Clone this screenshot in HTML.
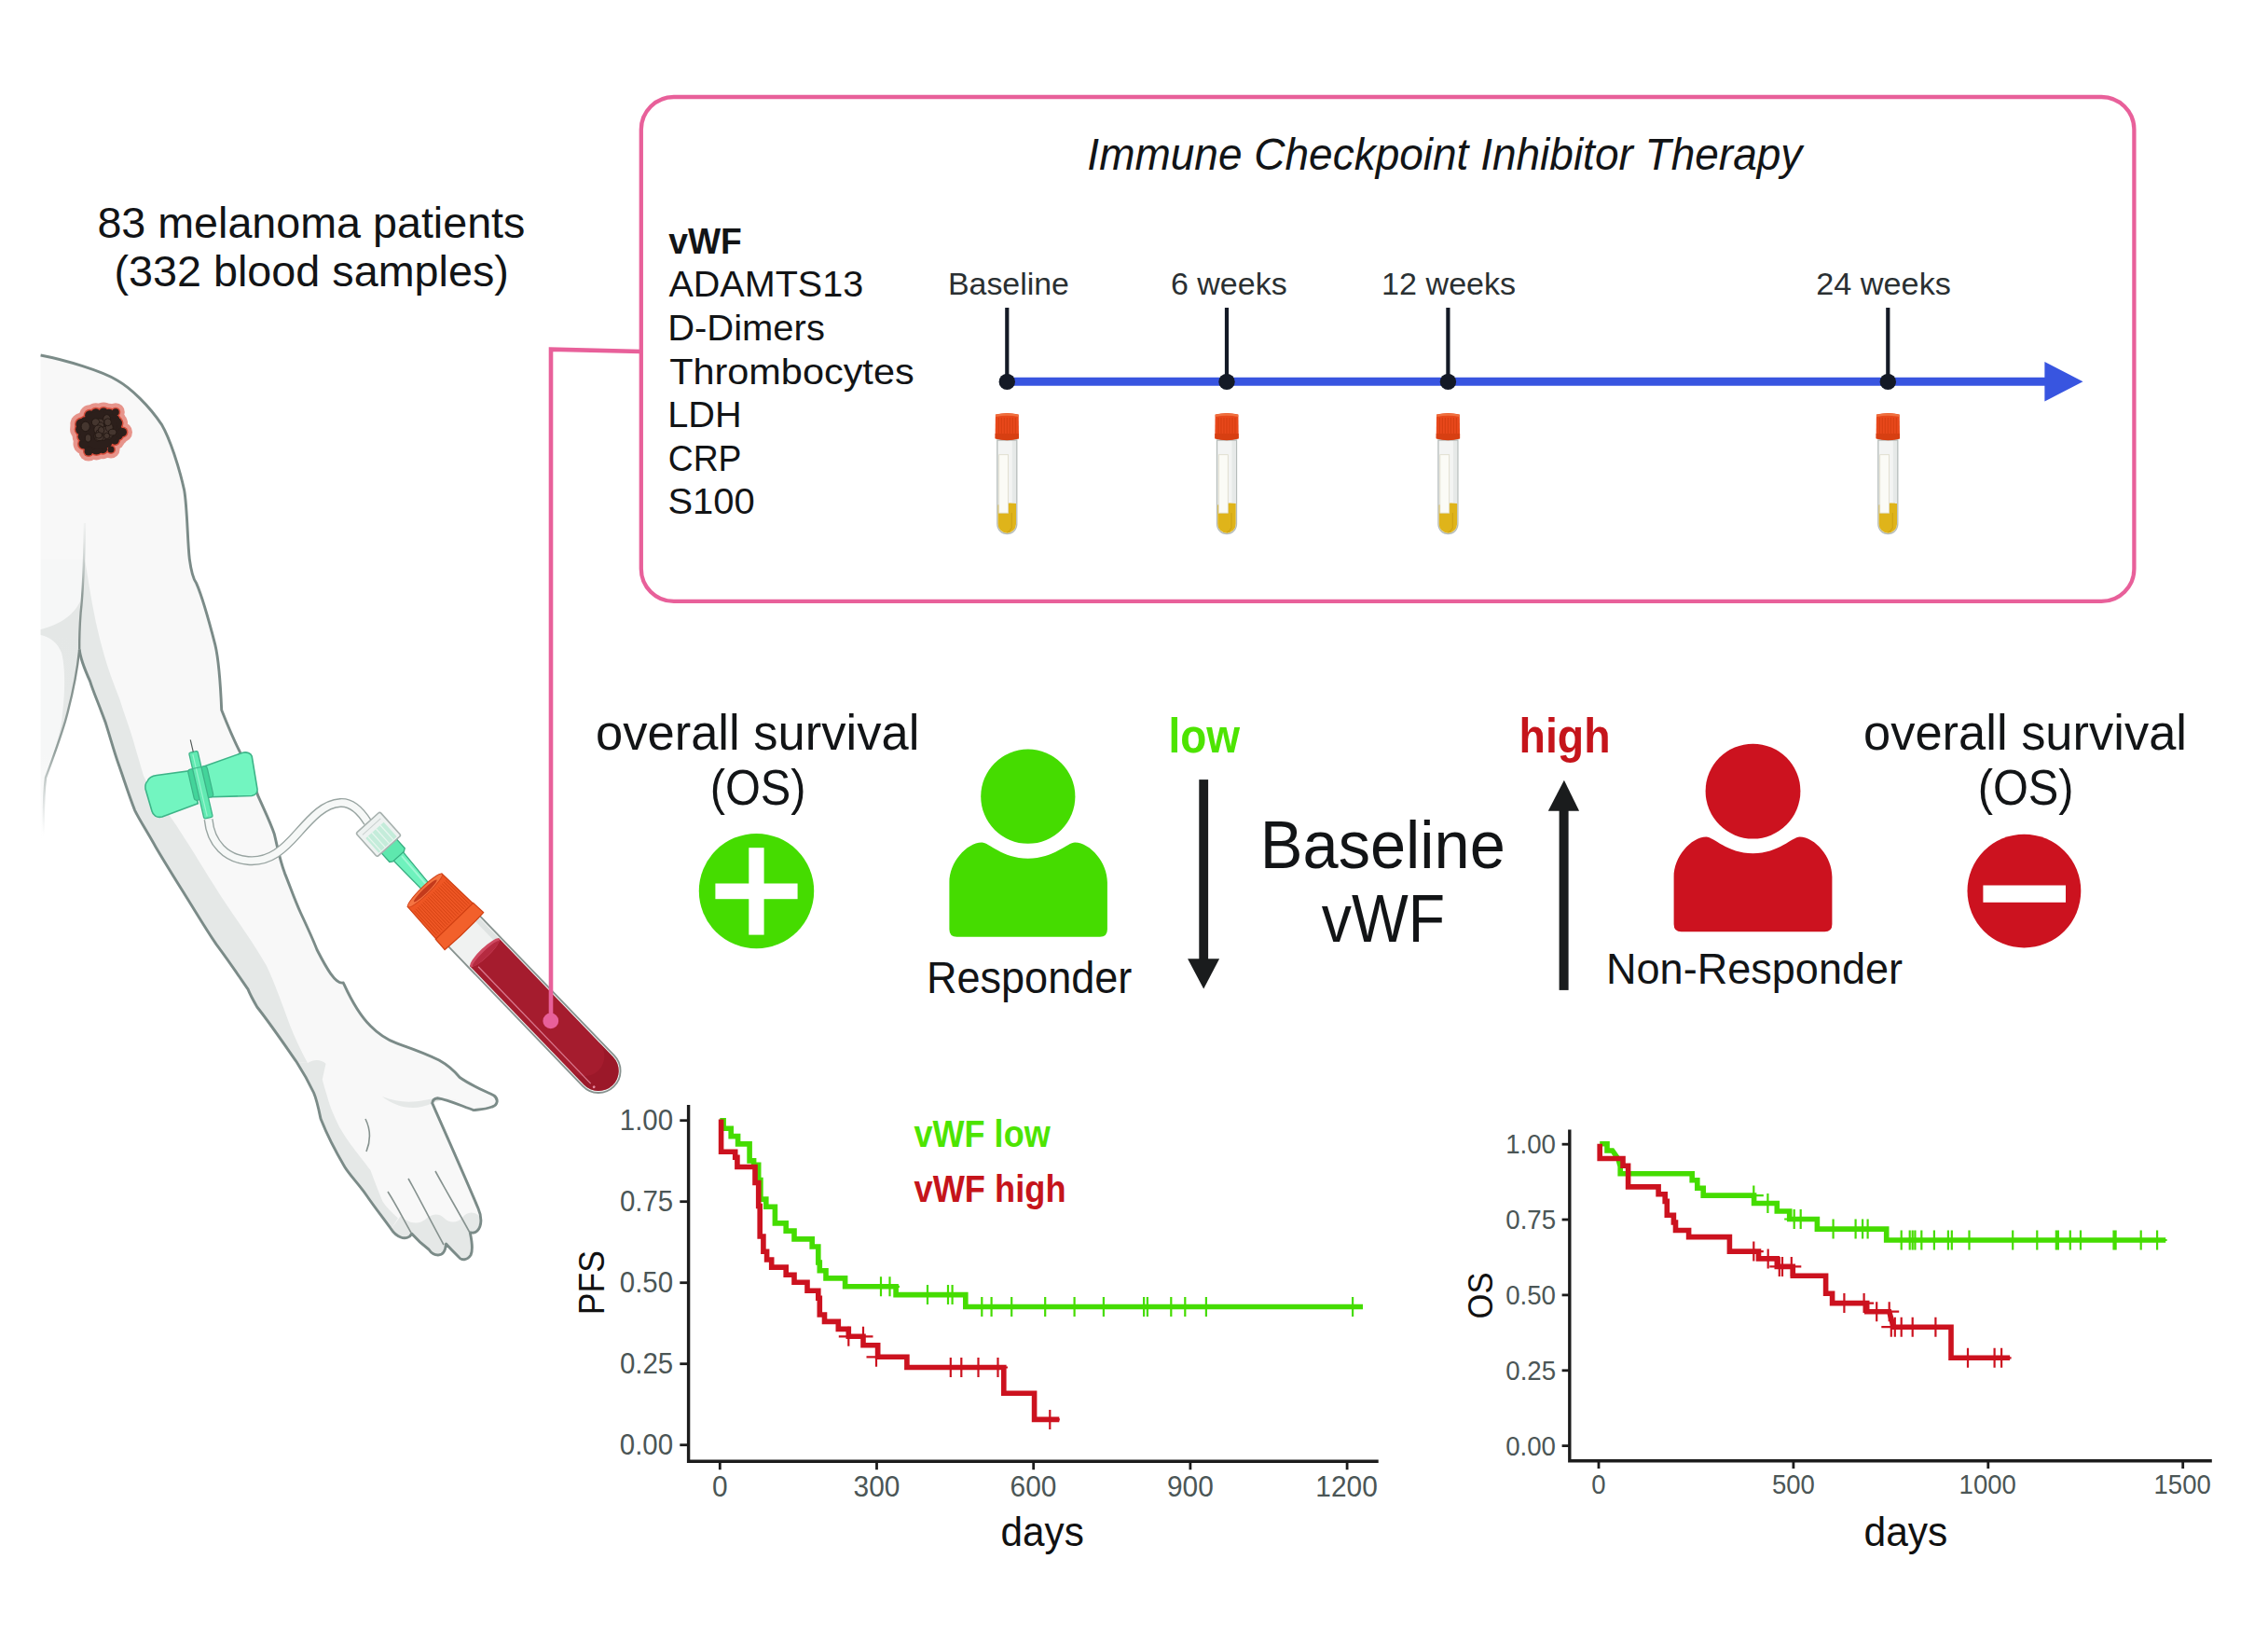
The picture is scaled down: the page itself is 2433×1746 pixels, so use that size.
<!DOCTYPE html>
<html><head><meta charset="utf-8"><style>
html,body{margin:0;padding:0;background:#fff;overflow:hidden;width:2433px;height:1746px;}
svg{display:block;font-family:"Liberation Sans", sans-serif;}
</style></head><body>
<svg width="2433" height="1746" viewBox="0 0 2433 1746">
<defs><symbol id="tube" overflow="visible"><g>
<path d="M-10.5,472 L-10.5,562 A10.5,10.5 0 0 0 10.5,562 L10.5,472 Z" fill="#f3f4f3" stroke="#b5bcba" stroke-width="1.3"/>
<rect x="5.5" y="473" width="4.2" height="68" fill="#e6e9e8"/>
<path d="M-9.7,541.5 Q0,538.5 9.7,540 L9.7,562 A9.7,9.7 0 0 1 -9.7,562 Z" fill="#dfb41a"/>
<path d="M5,550 L5,566 Q3,570 0,571" stroke="#c99c12" stroke-width="1.2" fill="none" opacity="0.7"/>
<rect x="-8.6" y="487.7" width="9.9" height="62.5" fill="#fbfbf6" stroke="#dcd9c8" stroke-width="0.8"/>
<path d="M-12.4,444.5 Q0,441.5 12.4,444.5 L12.7,470 Q0,473.5 -12.7,470 Z" fill="#e8481b"/>
<g stroke="#cc3b0f" stroke-width="0.9" opacity="0.75"><line x1="-9" y1="448" x2="-9" y2="465"/><line x1="-6" y1="448" x2="-6" y2="465"/><line x1="-3" y1="448" x2="-3" y2="465"/><line x1="0" y1="448" x2="0" y2="465"/><line x1="3" y1="448" x2="3" y2="465"/><line x1="6" y1="448" x2="6" y2="465"/><line x1="9" y1="448" x2="9" y2="465"/></g>
<path d="M-12.7,465 L12.7,465 L12.7,470.5 Q0,474 -12.7,470.5 Z" fill="#d73f12"/>
<path d="M-12.2,444.8 Q0,441.8 12.2,444.8 L12.2,447 Q0,444.5 -12.2,447 Z" fill="#f0703f"/>
</g></symbol></defs>
<rect width="2433" height="1746" fill="#fff"/>
<text x="104.40" y="254.5" font-size="46.9" fill="#121416" text-anchor="start" textLength="459.01" lengthAdjust="spacingAndGlyphs">83 melanoma patients</text>
<text x="122.50" y="306.9" font-size="46.9" fill="#121416" text-anchor="start" textLength="423.35" lengthAdjust="spacingAndGlyphs">(332 blood samples)</text>
<defs><linearGradient id="tfade" gradientUnits="userSpaceOnUse" x1="0" y1="600" x2="0" y2="900"><stop offset="0" stop-color="#f6f7f7"/><stop offset="0.7" stop-color="#f6f7f7"/><stop offset="1" stop-color="#f6f7f7" stop-opacity="0"/></linearGradient><linearGradient id="tline" gradientUnits="userSpaceOnUse" x1="0" y1="696" x2="0" y2="895"><stop offset="0" stop-color="#7d8a87"/><stop offset="0.55" stop-color="#93a09d"/><stop offset="1" stop-color="#c5cccb" stop-opacity="0"/></linearGradient><linearGradient id="iline" gradientUnits="userSpaceOnUse" x1="0" y1="700" x2="0" y2="560"><stop offset="0" stop-color="#7d8a87"/><stop offset="0.45" stop-color="#8f9b98"/><stop offset="1" stop-color="#d5dbd9" stop-opacity="0.2"/></linearGradient><linearGradient id="sfade" gradientUnits="userSpaceOnUse" x1="0" y1="680" x2="0" y2="895"><stop offset="0" stop-color="#e4e7e6"/><stop offset="0.6" stop-color="#e6e9e8"/><stop offset="1" stop-color="#eef0f0" stop-opacity="0"/></linearGradient></defs>
<path d="M43.6,600 L90.8,600 L85.2,696.5 C83,718 78,745 70,773.5 C65,790 58,810 49,834 C47,850 46.5,870 47,900 L43.6,900 Z" fill="url(#tfade)"/>
<path d="M43.6,381 C70,386 110,398 125.9,408 C140,416 160,435 173.8,455.9 C182,470 192,500 197.7,525.9 C201,545 201,580 203.3,599.6 C205,612 208,622 210.6,625.4 C217,640 224,665 230.9,691.8 C234,705 236,720 237.7,761.5 C245,780 250,792 257.5,806.7 C265,825 272,840 277.3,854.7 C285,872 290,882 294.2,894.2 C298,910 300,922 305.5,936.6 C311,950 316,965 322.5,979 C330,995 336,1008 340,1018.5 C350,1038 360,1056 368.3,1054 C372,1062 382,1085 397.4,1100.3 C405,1108 415,1115 425,1118.7 C440,1124 455,1129 471,1137 C480,1142 487,1148 493.2,1155.5 C505,1164 520,1170 530,1175 C535,1179 534,1185 528,1187 C520,1190 512,1190 508,1190.6 C495,1186 480,1179 469.3,1177.7 C466,1178 464,1180 463.7,1183.2 C480,1220 500,1265 513,1296 C517,1305 517,1315 512,1320 C509,1323 506,1322 504.3,1322 C506,1330 508,1340 505,1346 C501,1352 495,1352 492,1348 C486,1342 482,1338 478.5,1334 C478,1340 476,1346 470,1346 C465,1346 462,1343 460,1340 C452,1334 446,1328 441.6,1323 C440,1327 435,1329 430,1327 C425,1325 422,1322 419.5,1318 C410,1305 400,1292 393.7,1282.7 C385,1270 375,1260 369.8,1251.4 C360,1235 350,1215 344,1199.8 C342,1190 340,1180 336.6,1172 C330,1158 324,1148 318.2,1139 C305,1120 290,1098 275.8,1080 C270,1070 268,1066 266,1060.9 C255,1045 245,1030 232.1,1012.9 C220,995 210,978 198.2,959.2 C185,938 175,922 167.1,908.4 C158,892 150,880 144.5,868.8 C138,852 133,836 127.6,820.8 C122,805 118,790 113.4,775.6 C106,755 100,742 96.5,730.4 C90,716 86,705 85.2,696.5 C85,680 86,665 86.6,657 C88,645 90,620 90.8,600 L43.6,600 Z" fill="#f8f8f8"/>
<path d="M90.8,600 C90,620 88,645 86.6,657 C86,670 85.5,685 85.2,696.5 C86,705 90,716 96.5,730.4 C100,742 106,755 113.4,775.6 C118,790 122,805 127.6,820.8 C133,836 138,852 144.5,868.8 C150,880 158,892 167.1,908.4 C175,922 185,938 198.2,959.2 C210,978 220,995 232.1,1012.9 C245,1030 255,1045 266,1060.9 C268,1066 270,1070 275.8,1080 C290,1098 305,1120 318.2,1139 L330,1140 C322,1125 316,1112 311.2,1099.9 C302,1075 295,1055 285.8,1035.5 C265,1000 245,975 230,950 C205,910 190,885 175.6,866 C165,850 160,845 154,831.9 C150,818 146,805 142.4,792.2 C138,778 133,765 128.4,750 C122,733 116,718 112,703.4 C105,680 100,655 95.7,628.7 C94,618 92.5,608 90.8,600 Z" fill="#e5e8e7"/>
<path d="M318.2,1139 C324,1148 330,1158 336.6,1172 C340,1180 342,1190 344,1199.8 C350,1215 360,1235 369.8,1251.4 C375,1260 385,1270 393.7,1282.7 C400,1292 410,1305 419.5,1318 L426.9,1306.6 C420,1300 414,1294 410.3,1288.2 C405,1275 401,1265 397.4,1255 C390,1245 384,1238 379,1231 C372,1222 368,1215 364.2,1209 C360,1200 356,1192 353.2,1183.2 C350,1172 347,1163 345.8,1157.4 L349.5,1140.8 C344,1136 337,1136 330,1140 Z" fill="#e5e8e7"/>
<path d="M419.5,1318 C425,1325 432,1328 438,1327 L441.6,1323 C450,1330 458,1340 465,1344 C472,1346 477,1342 478.5,1334 C485,1342 492,1350 500,1349 C506,1346 507,1336 504,1322 C510,1322 515,1318 515,1305 C508,1298 500,1300 496,1306 C490,1312 482,1312 476,1306 C470,1300 462,1302 456,1308 C448,1314 438,1312 430,1304 Z" fill="#e5e8e7"/>
<path d="M410,1176 C425,1188 445,1192 463.7,1183.2 C470,1180 480,1178 490,1180 C470,1176 465,1178 455,1180 C440,1183 425,1182 410,1176 Z" fill="#e5e8e7"/>
<path d="M43.6,675 C60,671 78,662 86,645 L85.2,696.5 C83,718 78,745 70,773.5 C65,790 58,810 49,834 C58,805 66,785 67,765 C70,740 70,715 66,700 C62,690 54,683 43.6,681 Z" fill="url(#sfade)"/>
<path d="M43.6,381 C70,386 110,398 125.9,408 C140,416 160,435 173.8,455.9 C182,470 192,500 197.7,525.9 C201,545 201,580 203.3,599.6 C205,612 208,622 210.6,625.4 C217,640 224,665 230.9,691.8 C234,705 236,720 237.7,761.5 C245,780 250,792 257.5,806.7 C265,825 272,840 277.3,854.7 C285,872 290,882 294.2,894.2 C298,910 300,922 305.5,936.6 C311,950 316,965 322.5,979 C330,995 336,1008 340,1018.5 C350,1038 360,1056 368.3,1054 C372,1062 382,1085 397.4,1100.3 C405,1108 415,1115 425,1118.7 C440,1124 455,1129 471,1137 C480,1142 487,1148 493.2,1155.5 C505,1164 520,1170 530,1175 C535,1179 534,1185 528,1187 C520,1190 512,1190 508,1190.6 C495,1186 480,1179 469.3,1177.7 C466,1178 464,1180 463.7,1183.2 C480,1220 500,1265 513,1296 C517,1305 517,1315 512,1320 C509,1323 506,1322 504.3,1322 C506,1330 508,1340 505,1346 C501,1352 495,1352 492,1348 C486,1342 482,1338 478.5,1334 C478,1340 476,1346 470,1346 C465,1346 462,1343 460,1340 C452,1334 446,1328 441.6,1323 C440,1327 435,1329 430,1327 C425,1325 422,1322 419.5,1318 C410,1305 400,1292 393.7,1282.7 C385,1270 375,1260 369.8,1251.4 C360,1235 350,1215 344,1199.8 C342,1190 340,1180 336.6,1172 C330,1158 324,1148 318.2,1139 C305,1120 290,1098 275.8,1080 C270,1070 268,1066 266,1060.9 C255,1045 245,1030 232.1,1012.9 C220,995 210,978 198.2,959.2 C185,938 175,922 167.1,908.4 C158,892 150,880 144.5,868.8 C138,852 133,836 127.6,820.8 C122,805 118,790 113.4,775.6 C106,755 100,742 96.5,730.4 C90,716 86,705 85.2,696.5" fill="none" stroke="#7b8b88" stroke-width="2.9" stroke-linejoin="round"/>
<path d="M85.2,696.5 C85,680 86,665 86.6,657 C88,645 90,620 91,561" fill="none" stroke="url(#iline)" stroke-width="2.4"/>
<path d="M85.2,696.5 C83,718 78,745 70,773.5 C65,790 58,810 49,834 C47,850 46.5,870 47,895" fill="none" stroke="url(#tline)" stroke-width="2.4"/>
<path d="M416,1278 C425,1292 433,1308 441,1322 M438,1264 C450,1285 462,1310 476,1335 M467,1256 C479,1278 492,1300 504,1322 M392,1200 C398,1212 397,1225 393,1235" fill="none" stroke="#86928f" stroke-width="1.6"/>
<g fill="#e68a80" opacity="0.9"><circle cx="124.8" cy="460.9" r="12.1"/><circle cx="126.4" cy="466.4" r="11.4"/><circle cx="123.2" cy="472.1" r="10.6"/><circle cx="115.3" cy="475.4" r="10.7"/><circle cx="110.3" cy="481.4" r="10.8"/><circle cx="103.4" cy="480.5" r="12.9"/><circle cx="95.6" cy="476.9" r="12.9"/><circle cx="89.7" cy="476.0" r="11.2"/><circle cx="89.0" cy="468.2" r="11.3"/><circle cx="87.1" cy="460.4" r="12.0"/><circle cx="87.3" cy="455.0" r="11.9"/><circle cx="91.1" cy="452.3" r="11.0"/><circle cx="96.4" cy="445.5" r="11.3"/><circle cx="102.8" cy="443.5" r="11.2"/><circle cx="111.1" cy="442.5" r="11.1"/><circle cx="116.8" cy="445.5" r="12.7"/><circle cx="121.6" cy="451.0" r="13.0"/><circle cx="124.6" cy="454.1" r="12.4"/><circle cx="131.5" cy="463.5" r="10.5"/><circle cx="124.0" cy="442.0" r="9.8"/><circle cx="95.0" cy="484.0" r="10.5"/><circle cx="119.0" cy="482.0" r="9.5"/><circle cx="106" cy="461.5" r="26"/></g>
<g fill="#cf3420" opacity="0.75"><circle cx="124.8" cy="460.9" r="7.6"/><circle cx="126.4" cy="466.4" r="6.9"/><circle cx="123.2" cy="472.1" r="6.1"/><circle cx="115.3" cy="475.4" r="6.2"/><circle cx="110.3" cy="481.4" r="6.3"/><circle cx="103.4" cy="480.5" r="8.4"/><circle cx="95.6" cy="476.9" r="8.4"/><circle cx="89.7" cy="476.0" r="6.7"/><circle cx="89.0" cy="468.2" r="6.8"/><circle cx="87.1" cy="460.4" r="7.5"/><circle cx="87.3" cy="455.0" r="7.4"/><circle cx="91.1" cy="452.3" r="6.5"/><circle cx="96.4" cy="445.5" r="6.8"/><circle cx="102.8" cy="443.5" r="6.7"/><circle cx="111.1" cy="442.5" r="6.6"/><circle cx="116.8" cy="445.5" r="8.2"/><circle cx="121.6" cy="451.0" r="8.5"/><circle cx="124.6" cy="454.1" r="7.9"/><circle cx="131.5" cy="463.5" r="6.0"/><circle cx="124.0" cy="442.0" r="5.3"/><circle cx="95.0" cy="484.0" r="6.0"/><circle cx="119.0" cy="482.0" r="5.0"/><circle cx="106" cy="461.5" r="21.5"/></g>
<g fill="#2c1f1b"><circle cx="124.8" cy="460.9" r="6.1"/><circle cx="126.4" cy="466.4" r="5.4"/><circle cx="123.2" cy="472.1" r="4.6"/><circle cx="115.3" cy="475.4" r="4.7"/><circle cx="110.3" cy="481.4" r="4.8"/><circle cx="103.4" cy="480.5" r="6.9"/><circle cx="95.6" cy="476.9" r="6.9"/><circle cx="89.7" cy="476.0" r="5.2"/><circle cx="89.0" cy="468.2" r="5.3"/><circle cx="87.1" cy="460.4" r="6.0"/><circle cx="87.3" cy="455.0" r="5.9"/><circle cx="91.1" cy="452.3" r="5.0"/><circle cx="96.4" cy="445.5" r="5.3"/><circle cx="102.8" cy="443.5" r="5.2"/><circle cx="111.1" cy="442.5" r="5.1"/><circle cx="116.8" cy="445.5" r="6.7"/><circle cx="121.6" cy="451.0" r="7.0"/><circle cx="124.6" cy="454.1" r="6.4"/><circle cx="131.5" cy="463.5" r="4.5"/><circle cx="124.0" cy="442.0" r="3.8"/><circle cx="95.0" cy="484.0" r="4.5"/><circle cx="119.0" cy="482.0" r="3.5"/><circle cx="106" cy="461.5" r="20"/></g>
<g fill="#45362f" stroke="#221713" stroke-width="0.9"><ellipse cx="110.8" cy="467.6" rx="3.1" ry="4.7"/><ellipse cx="106.9" cy="452.8" rx="4.8" ry="3.8"/><ellipse cx="102.6" cy="452.9" rx="4.2" ry="4.1"/><ellipse cx="114.6" cy="449.3" rx="3.9" ry="4.7"/><ellipse cx="117.1" cy="465.5" rx="4.3" ry="5.5"/><ellipse cx="108.1" cy="457.6" rx="3.8" ry="4.7"/><ellipse cx="113.8" cy="462.5" rx="3.3" ry="3.3"/><ellipse cx="118.2" cy="465.8" rx="3.3" ry="3.6"/><ellipse cx="94.5" cy="469.9" rx="3.2" ry="4.1"/><ellipse cx="91.7" cy="457.4" rx="4.6" ry="5.2"/><ellipse cx="104.7" cy="467.8" rx="3.7" ry="5.2"/><ellipse cx="108.5" cy="460.9" rx="3.4" ry="3.6"/><ellipse cx="106.9" cy="468.9" rx="4.2" ry="3.7"/><ellipse cx="113.1" cy="461.7" rx="3.7" ry="4.4"/><ellipse cx="117.2" cy="458.4" rx="4.0" ry="4.5"/><ellipse cx="105.6" cy="460.8" rx="4.8" ry="4.9"/><ellipse cx="115.6" cy="452.8" rx="3.8" ry="4.0"/><ellipse cx="114.6" cy="467.4" rx="3.1" ry="3.2"/><ellipse cx="106.7" cy="463.9" rx="3.7" ry="3.1"/><ellipse cx="108.6" cy="461.5" rx="3.2" ry="3.9"/><ellipse cx="120.7" cy="463.6" rx="4.2" ry="3.4"/><ellipse cx="105.9" cy="466.8" rx="3.7" ry="3.3"/></g>
<path d="M158,838 C160,833 164,832 168,831.5 L205.3,826.4 L212.3,861.8 L174,876 C168,877.5 164,874 163,870 L156,846 C155.5,842 156,840 158,838 Z" fill="#72f5c0" stroke="#3db488" stroke-width="1.6"/>
<path d="M218,822.2 L260.3,807.2 C265,806 269,808 270.2,811 L276,846 C276.5,850 274,853 270,853.5 L226.4,854.7 Z" fill="#72f5c0" stroke="#3db488" stroke-width="1.6"/>
<g transform="rotate(-13 215.5 842)"><rect x="205.2" y="823" width="21" height="34" rx="3" fill="#43d49a" stroke="#3db488" stroke-width="1.2"/><rect x="210.7" y="805.5" width="9.6" height="72.5" rx="1.5" fill="#62eab2" stroke="#3db488" stroke-width="1.3"/><line x1="214.5" y1="808" x2="214.5" y2="876" stroke="#9af5d0" stroke-width="1.2"/><line x1="210.7" y1="823" x2="220.3" y2="823" stroke="#3db488" stroke-width="1"/><line x1="215.5" y1="805.5" x2="215.5" y2="792" stroke="#4a5250" stroke-width="1.1"/></g>
<path d="M223.6,878.7 C226,905 243,921 266,923 C290,925 305,910 320,893 C335,876 348,862 365,861 C378,860 387,870 394.6,882.2" fill="none" stroke="#98a4a1" stroke-width="10"/>
<path d="M223.6,878.7 C226,905 243,921 266,923 C290,925 305,910 320,893 C335,876 348,862 365,861 C378,860 387,870 394.6,882.2" fill="none" stroke="#f6f8f7" stroke-width="7.2"/>
<g transform="translate(406,894.8) rotate(48)"><path d="M30,-7 L75,-5 L75,5 L30,7 Z" fill="#6ff2bd" stroke="#36ad80" stroke-width="1.3"/><path d="M34,-3 L74,-2" stroke="#9ff7d4" stroke-width="2"/><path d="M14,-11 L30,-11 L32,-8 L32,8 L30,11 L14,11 Z" fill="#5ee8ae" stroke="#36ad80" stroke-width="1.3"/><rect x="-17" y="-17.2" width="34" height="34.4" rx="2" fill="#eef2f1" stroke="#a7b1ae" stroke-width="1.6"/><rect x="-6" y="-13" width="21" height="26" fill="#c4ecda"/><g stroke="#e8f6ef" stroke-width="1.2"><line x1="-6" y1="-8" x2="15" y2="-8"/><line x1="-6" y1="-2" x2="15" y2="-2"/><line x1="-6" y1="4" x2="15" y2="4"/><line x1="-6" y1="10" x2="15" y2="10"/></g><line x1="-11" y1="-13" x2="-11" y2="13" stroke="#c9d0ce" stroke-width="1"/></g>
<g transform="translate(453.5,952.5) rotate(46.1)"><path d="M62,-23.5 L272,-23.5 A23.5,23.5 0 0 1 272,23.5 L62,23.5 Z" fill="#f0f2f1" stroke="#87928f" stroke-width="1.8"/><path d="M64,-21.5 L100,-21.5 L100,-16 L64,-16 Z" fill="#dfe3e2"/><path d="M95,-21.6 L272,-21.6 A21.6,21.6 0 0 1 272,21.6 L95,21.6 Z" fill="#a51c2e"/><path d="M250,-21.6 L272,-21.6 A21.6,21.6 0 0 1 272,21.6 L250,21.6 A21.6,21.6 0 0 0 250,-21.6 Z" fill="#951627" opacity="0.6"/><ellipse cx="96" cy="0" rx="5" ry="21.4" fill="#cf4a62"/><ellipse cx="97.5" cy="0" rx="3.2" ry="19.5" fill="#b52a40"/><path d="M102,15.5 L276,15.5" stroke="#e38aa0" stroke-width="1.3" opacity="0.85"/><circle cx="281" cy="15.5" r="1.4" fill="#e38aa0"/><path d="M3,-25.5 L50,-27.5 L50,27.5 L3,25.5 Z" fill="#ee5624" stroke="#cf3f12" stroke-width="1.2"/><g stroke="#cf3f10" stroke-width="0.9" opacity="0.85"><line x1="11" y1="-23.4" x2="47" y2="-24.3"/><line x1="11" y1="-20.8" x2="47" y2="-21.6"/><line x1="11" y1="-18.2" x2="47" y2="-18.9"/><line x1="11" y1="-15.6" x2="47" y2="-16.2"/><line x1="11" y1="-13.0" x2="47" y2="-13.5"/><line x1="11" y1="-10.4" x2="47" y2="-10.8"/><line x1="11" y1="-7.8" x2="47" y2="-8.1"/><line x1="11" y1="-5.2" x2="47" y2="-5.4"/><line x1="11" y1="-2.6" x2="47" y2="-2.7"/><line x1="11" y1="0.0" x2="47" y2="0.0"/><line x1="11" y1="2.6" x2="47" y2="2.7"/><line x1="11" y1="5.2" x2="47" y2="5.4"/><line x1="11" y1="7.8" x2="47" y2="8.1"/><line x1="11" y1="10.4" x2="47" y2="10.8"/><line x1="11" y1="13.0" x2="47" y2="13.5"/><line x1="11" y1="15.6" x2="47" y2="16.2"/><line x1="11" y1="18.2" x2="47" y2="18.9"/><line x1="11" y1="20.8" x2="47" y2="21.6"/><line x1="11" y1="23.4" x2="47" y2="24.3"/></g><path d="M49,-28 L64,-28.8 Q66,0 64,28.8 L49,28 Z" fill="#f2602b" stroke="#cf3f12" stroke-width="1.2"/><ellipse cx="3.5" cy="0" rx="4.5" ry="25.5" fill="#f47442" stroke="#d4441a" stroke-width="1"/><ellipse cx="4" cy="0" rx="2.6" ry="17" fill="#c33a1c"/></g>
<rect x="687.8" y="104" width="1601.6" height="540.9" rx="35" ry="35" fill="none" stroke="#e8609a" stroke-width="4.3"/>
<polyline points="687.7,377 591,374.6 591,1095" fill="none" stroke="#e8609a" stroke-width="4.6" stroke-linejoin="miter"/>
<circle cx="590.8" cy="1094.9" r="8.4" fill="#e8609a"/>
<text x="1166.36" y="181.9" font-size="48.3" font-style="italic" fill="#121416" text-anchor="start" textLength="766.95" lengthAdjust="spacingAndGlyphs">Immune Checkpoint Inhibitor Therapy</text>
<text x="717.21" y="271.9" font-size="39.2" font-weight="bold" fill="#121416" text-anchor="start" textLength="78.52" lengthAdjust="spacingAndGlyphs">vWF</text>
<text x="717.40" y="317.8" font-size="39.2" fill="#121416" text-anchor="start" textLength="208.86" lengthAdjust="spacingAndGlyphs">ADAMTS13</text>
<text x="716.20" y="364.7" font-size="39.2" fill="#121416" text-anchor="start" textLength="168.67" lengthAdjust="spacingAndGlyphs">D-Dimers</text>
<text x="718.17" y="411.6" font-size="39.2" fill="#121416" text-anchor="start" textLength="262.50" lengthAdjust="spacingAndGlyphs">Thrombocytes</text>
<text x="716.23" y="457.6" font-size="39.2" fill="#121416" text-anchor="start" textLength="79.37" lengthAdjust="spacingAndGlyphs">LDH</text>
<text x="716.73" y="504.5" font-size="39.2" fill="#121416" text-anchor="start" textLength="78.78" lengthAdjust="spacingAndGlyphs">CRP</text>
<text x="716.40" y="551.4" font-size="39.2" fill="#121416" text-anchor="start" textLength="93.32" lengthAdjust="spacingAndGlyphs">S100</text>
<line x1="1080" y1="409.3" x2="2200" y2="409.3" stroke="#3855e0" stroke-width="9"/>
<polygon points="2193.4,388 2234.5,409.3 2193.4,430.6" fill="#3855e0"/>
<line x1="1080.3" y1="330" x2="1080.3" y2="409" stroke="#141a26" stroke-width="4.2"/>
<circle cx="1080.3" cy="409.4" r="8.7" fill="#141a26"/>
<text x="1016.99" y="316.0" font-size="33.9" fill="#2a3032" text-anchor="start" textLength="129.97" lengthAdjust="spacingAndGlyphs">Baseline</text>
<use href="#tube" x="1080.3" y="0"/>
<line x1="1316" y1="330" x2="1316" y2="409" stroke="#141a26" stroke-width="4.2"/>
<circle cx="1316" cy="409.4" r="8.7" fill="#141a26"/>
<text x="1256.00" y="316.0" font-size="33.9" fill="#2a3032" text-anchor="start" textLength="124.64" lengthAdjust="spacingAndGlyphs">6 weeks</text>
<use href="#tube" x="1316" y="0"/>
<line x1="1553.4" y1="330" x2="1553.4" y2="409" stroke="#141a26" stroke-width="4.2"/>
<circle cx="1553.4" cy="409.4" r="8.7" fill="#141a26"/>
<text x="1482.14" y="316.0" font-size="33.9" fill="#2a3032" text-anchor="start" textLength="144.04" lengthAdjust="spacingAndGlyphs">12 weeks</text>
<use href="#tube" x="1553.4" y="0"/>
<line x1="2025.3" y1="330" x2="2025.3" y2="409" stroke="#141a26" stroke-width="4.2"/>
<circle cx="2025.3" cy="409.4" r="8.7" fill="#141a26"/>
<text x="1948.29" y="316.0" font-size="33.9" fill="#2a3032" text-anchor="start" textLength="144.60" lengthAdjust="spacingAndGlyphs">24 weeks</text>
<use href="#tube" x="2025.3" y="0"/>
<text x="639.00" y="803.6" font-size="53.5" fill="#121416" text-anchor="start" textLength="347.30" lengthAdjust="spacingAndGlyphs">overall survival</text>
<text x="761.68" y="862.7" font-size="54.1" fill="#121416" text-anchor="start" textLength="102.89" lengthAdjust="spacingAndGlyphs">(OS)</text>
<text x="1999.00" y="803.6" font-size="53.5" fill="#121416" text-anchor="start" textLength="346.99" lengthAdjust="spacingAndGlyphs">overall survival</text>
<text x="2121.68" y="862.7" font-size="54.1" fill="#121416" text-anchor="start" textLength="102.89" lengthAdjust="spacingAndGlyphs">(OS)</text>
<circle cx="811.5" cy="955.6" r="61.7" fill="#45dc00"/>
<rect x="803.3" y="909.2" width="16.3" height="93.4" fill="#fff"/>
<rect x="767.4" y="947.5" width="88.2" height="16.7" fill="#fff"/>
<circle cx="2171.4" cy="955.6" r="60.9" fill="#cc121f"/>
<rect x="2127.4" y="949.5" width="88.6" height="18.3" fill="#fff"/>
<circle cx="1102.8" cy="854.2" r="50.6" fill="#45dc00"/>
<path d="M1018.4,996.8 L1018.4,946.5 C1018.4,925.0 1036.4,904.0 1053.2,903.5 C1061.2,903.5 1074.8,920.7 1102.8,920.7 C1130.8,920.7 1145.1000000000001,903.5 1153.1000000000001,903.5 C1169.9,904.0 1187.9,925.0 1187.9,946.5 L1187.9,996.8 Q1187.9,1004.8 1179.9,1004.8 L1026.4,1004.8 Q1018.4,1004.8 1018.4,996.8 Z" fill="#45dc00"/>
<circle cx="1880.5" cy="848.6" r="50.9" fill="#cc121f"/>
<path d="M1795.6,991.3 L1795.6,940.6 C1795.6,919.1 1813.6,898.1 1830.3999999999999,897.6 C1838.3999999999999,897.6 1852.5,915.3 1880.5,915.3 C1908.5,915.3 1922.6000000000001,897.6 1930.6000000000001,897.6 C1947.4,898.1 1965.4,919.1 1965.4,940.6 L1965.4,991.3 Q1965.4,999.3 1957.4,999.3 L1803.6,999.3 Q1795.6,999.3 1795.6,991.3 Z" fill="#cc121f"/>
<text x="993.89" y="1065.0" font-size="47.7" fill="#121416" text-anchor="start" textLength="220.48" lengthAdjust="spacingAndGlyphs">Responder</text>
<text x="1723.00" y="1054.8" font-size="46.5" fill="#121416" text-anchor="start" textLength="318.10" lengthAdjust="spacingAndGlyphs">Non-Responder</text>
<text x="1253.48" y="807.0" font-size="51.7" font-weight="bold" fill="#4de400" text-anchor="start" textLength="76.66" lengthAdjust="spacingAndGlyphs">low</text>
<text x="1629.55" y="806.8" font-size="51.4" font-weight="bold" fill="#c5141b" text-anchor="start" textLength="97.95" lengthAdjust="spacingAndGlyphs">high</text>
<text x="1351.81" y="931.1" font-size="71.8" fill="#121416" text-anchor="start" textLength="263.05" lengthAdjust="spacingAndGlyphs">Baseline</text>
<text x="1417.78" y="1009.5" font-size="71.8" fill="#121416" text-anchor="start" textLength="132.28" lengthAdjust="spacingAndGlyphs">vWF</text>
<rect x="1286.3" y="836.1" width="9.8" height="193" fill="#1a1c1d"/>
<polygon points="1274.1,1028.2 1308.1,1028.2 1291.2,1060.6" fill="#1a1c1d"/>
<rect x="1672.6" y="868" width="10" height="193.9" fill="#1a1c1d"/>
<polygon points="1660.8,869.8 1694.1,869.8 1677.9,836.8" fill="#1a1c1d"/>
<path d="M738.6,1185 V1567.3 H1478.7" stroke="#1c1c1c" stroke-width="3.4" fill="none"/>
<line x1="729.3" y1="1201.7" x2="738.8" y2="1201.7" stroke="#1c1c1c" stroke-width="2.8"/>
<text x="664.82" y="1211.80" font-size="30.80" fill="#4b5656" textLength="57.25" lengthAdjust="spacingAndGlyphs">1.00</text>
<line x1="729.3" y1="1288.7" x2="738.8" y2="1288.7" stroke="#1c1c1c" stroke-width="2.8"/>
<text x="664.97" y="1298.80" font-size="30.80" fill="#4b5656" textLength="57.25" lengthAdjust="spacingAndGlyphs">0.75</text>
<line x1="729.3" y1="1375.7" x2="738.8" y2="1375.7" stroke="#1c1c1c" stroke-width="2.8"/>
<text x="664.82" y="1385.80" font-size="30.80" fill="#4b5656" textLength="57.25" lengthAdjust="spacingAndGlyphs">0.50</text>
<line x1="729.3" y1="1462.7" x2="738.8" y2="1462.7" stroke="#1c1c1c" stroke-width="2.8"/>
<text x="664.97" y="1472.80" font-size="30.80" fill="#4b5656" textLength="57.25" lengthAdjust="spacingAndGlyphs">0.25</text>
<line x1="729.3" y1="1549.7" x2="738.8" y2="1549.7" stroke="#1c1c1c" stroke-width="2.8"/>
<text x="664.82" y="1559.80" font-size="30.80" fill="#4b5656" textLength="57.25" lengthAdjust="spacingAndGlyphs">0.00</text>
<line x1="772.3" y1="1567.3" x2="772.3" y2="1576.2" stroke="#1c1c1c" stroke-width="2.8"/>
<text x="763.93" y="1604.80" font-size="30.80" fill="#4b5656" textLength="16.62" lengthAdjust="spacingAndGlyphs">0</text>
<line x1="940.5" y1="1567.3" x2="940.5" y2="1576.2" stroke="#1c1c1c" stroke-width="2.8"/>
<text x="915.56" y="1604.80" font-size="30.80" fill="#4b5656" textLength="49.85" lengthAdjust="spacingAndGlyphs">300</text>
<line x1="1108.7" y1="1567.3" x2="1108.7" y2="1576.2" stroke="#1c1c1c" stroke-width="2.8"/>
<text x="1083.62" y="1604.80" font-size="30.80" fill="#4b5656" textLength="49.85" lengthAdjust="spacingAndGlyphs">600</text>
<line x1="1276.9" y1="1567.3" x2="1276.9" y2="1576.2" stroke="#1c1c1c" stroke-width="2.8"/>
<text x="1251.91" y="1604.80" font-size="30.80" fill="#4b5656" textLength="49.85" lengthAdjust="spacingAndGlyphs">900</text>
<line x1="1445.1" y1="1567.3" x2="1445.1" y2="1576.2" stroke="#1c1c1c" stroke-width="2.8"/>
<text x="1411.31" y="1604.80" font-size="30.80" fill="#4b5656" textLength="66.46" lengthAdjust="spacingAndGlyphs">1200</text>
<text x="1073.61" y="1657.90" font-size="45.00" fill="#111" textLength="89.27" lengthAdjust="spacingAndGlyphs">days</text>
<text transform="translate(648.2,1375.05) rotate(-90)" x="-35.19" y="0.00" font-size="38.20" fill="#111" textLength="69.14" lengthAdjust="spacingAndGlyphs">PFS</text>
<text x="980.52" y="1229.90" font-size="41.50" fill="#4de400" font-weight="bold" textLength="146.19" lengthAdjust="spacingAndGlyphs">vWF low</text>
<text x="980.52" y="1289.40" font-size="41.50" fill="#c5141b" font-weight="bold" textLength="163.02" lengthAdjust="spacingAndGlyphs">vWF high</text>
<path d="M772.3,1201.7 H776.1 V1210.2 H784.2 V1218.6 H791.6 V1226.9 H804.1 V1244.9 H808.6 V1249.3 H813.7 V1265.5 H815.9 V1286.1 H821.8 V1294.3 H831.4 V1311.9 H843.2 V1320.1 H852 V1328.9 H871.2 V1337 H877.8 V1354 H879.3 V1362.8 H886 V1370.9 H906.6 V1379.8 H961.1 V1388.6 H1035.8 V1401.5 H1462" stroke="#45dc00" stroke-width="5.6" fill="none" stroke-linejoin="miter"/>
<path d="M773.6,1200.6 V1235.3 H788.7 V1241.2 H790.9 V1251.5 H810 V1268.5 H813.7 V1293.5 H815.2 V1326 H818.9 V1342.2 H822.6 V1351 H827.7 V1359.1 H843.2 V1367.2 H852 V1375.3 H866 V1384.2 H877.8 V1392.3 H879.3 V1410 H884.5 V1417.4 H899.3 V1425.4 H910.3 V1433.3 H926 V1442.7 H941.7 V1455.3 H972.9 V1466.5 H1076.8 V1494.3 H1109.6 V1522.4 H1136.3" stroke="#cc121f" stroke-width="5.6" fill="none" stroke-linejoin="miter"/>
<path d="M945.0,1369.3V1390.3M934.5,1379.8H955.5M954.5,1369.3V1390.3M944.0,1379.8H965.0" stroke="#45dc00" stroke-width="2.2" fill="none"/>
<path d="M995.0,1378.1V1399.1M984.5,1388.6H1005.5M1017.0,1378.1V1399.1M1006.5,1388.6H1027.5M1021.6,1378.1V1399.1M1011.1,1388.6H1032.1" stroke="#45dc00" stroke-width="2.2" fill="none"/>
<path d="M1053.3,1391.0V1412.0M1042.8,1401.5H1063.8M1063.6,1391.0V1412.0M1053.1,1401.5H1074.1M1085.2,1391.0V1412.0M1074.7,1401.5H1095.7M1121.2,1391.0V1412.0M1110.7,1401.5H1131.7M1152.6,1391.0V1412.0M1142.1,1401.5H1163.1M1183.9,1391.0V1412.0M1173.4,1401.5H1194.4M1227.1,1391.0V1412.0M1216.6,1401.5H1237.6M1230.9,1391.0V1412.0M1220.4,1401.5H1241.4M1256.3,1391.0V1412.0M1245.8,1401.5H1266.8M1271.3,1391.0V1412.0M1260.8,1401.5H1281.8M1293.9,1391.0V1412.0M1283.4,1401.5H1304.4M1451.1,1391.0V1412.0M1440.6,1401.5H1461.6" stroke="#45dc00" stroke-width="2.2" fill="none"/>
<path d="M910.3,1422.8V1443.8M899.8,1433.3H920.8M926.0,1422.8V1443.8M915.5,1433.3H936.5" stroke="#cc121f" stroke-width="2.2" fill="none"/>
<path d="M940.0,1444.8V1465.8M929.5,1455.3H950.5" stroke="#cc121f" stroke-width="2.2" fill="none"/>
<path d="M1019.8,1456.0V1477.0M1009.3,1466.5H1030.3M1031.3,1456.0V1477.0M1020.8,1466.5H1041.8M1049.5,1456.0V1477.0M1039.0,1466.5H1060.0M1070.5,1456.0V1477.0M1060.0,1466.5H1081.0" stroke="#cc121f" stroke-width="2.2" fill="none"/>
<path d="M1126.3,1511.9V1532.9M1115.8,1522.4H1136.8" stroke="#cc121f" stroke-width="2.2" fill="none"/>
<path d="M1683.8,1211.5 V1566.8 H2372.8" stroke="#1c1c1c" stroke-width="3.4" fill="none"/>
<line x1="1675.6" y1="1227.2" x2="1684" y2="1227.2" stroke="#1c1c1c" stroke-width="2.8"/>
<text x="1615.18" y="1237.20" font-size="28.60" fill="#4b5656" textLength="53.83" lengthAdjust="spacingAndGlyphs">1.00</text>
<line x1="1675.6" y1="1308.0" x2="1684" y2="1308.0" stroke="#1c1c1c" stroke-width="2.8"/>
<text x="1615.31" y="1318.05" font-size="28.60" fill="#4b5656" textLength="53.83" lengthAdjust="spacingAndGlyphs">0.75</text>
<line x1="1675.6" y1="1388.9" x2="1684" y2="1388.9" stroke="#1c1c1c" stroke-width="2.8"/>
<text x="1615.18" y="1398.90" font-size="28.60" fill="#4b5656" textLength="53.83" lengthAdjust="spacingAndGlyphs">0.50</text>
<line x1="1675.6" y1="1469.8" x2="1684" y2="1469.8" stroke="#1c1c1c" stroke-width="2.8"/>
<text x="1615.31" y="1479.75" font-size="28.60" fill="#4b5656" textLength="53.83" lengthAdjust="spacingAndGlyphs">0.25</text>
<line x1="1675.6" y1="1550.6" x2="1684" y2="1550.6" stroke="#1c1c1c" stroke-width="2.8"/>
<text x="1615.18" y="1560.60" font-size="28.60" fill="#4b5656" textLength="53.83" lengthAdjust="spacingAndGlyphs">0.00</text>
<line x1="1715.0" y1="1566.8" x2="1715.0" y2="1575" stroke="#1c1c1c" stroke-width="2.8"/>
<text x="1707.29" y="1602.20" font-size="29.60" fill="#4b5656" textLength="15.31" lengthAdjust="spacingAndGlyphs">0</text>
<line x1="1923.9" y1="1566.8" x2="1923.9" y2="1575" stroke="#1c1c1c" stroke-width="2.8"/>
<text x="1900.91" y="1602.20" font-size="29.60" fill="#4b5656" textLength="45.93" lengthAdjust="spacingAndGlyphs">500</text>
<line x1="2132.8" y1="1566.8" x2="2132.8" y2="1575" stroke="#1c1c1c" stroke-width="2.8"/>
<text x="2101.62" y="1602.20" font-size="29.60" fill="#4b5656" textLength="61.24" lengthAdjust="spacingAndGlyphs">1000</text>
<line x1="2341.7" y1="1566.8" x2="2341.7" y2="1575" stroke="#1c1c1c" stroke-width="2.8"/>
<text x="2310.52" y="1602.20" font-size="29.60" fill="#4b5656" textLength="61.24" lengthAdjust="spacingAndGlyphs">1500</text>
<text x="1999.50" y="1657.90" font-size="45.00" fill="#111" textLength="89.89" lengthAdjust="spacingAndGlyphs">days</text>
<text transform="translate(1600.6,1389.5) rotate(-90)" x="-24.90" y="0.00" font-size="36.20" fill="#111" textLength="49.80" lengthAdjust="spacingAndGlyphs">OS</text>
<path d="M1716.2,1226.7 H1724 V1234 H1729.7 L1736,1243 L1738.2,1251 V1258.7 H1815.2 V1265.8 H1820.8 V1274.3 H1827.2 V1282.1 H1881.6 V1290.5 H1906.3 V1299 H1919.7 V1307.5 H1949.4 V1318.1 H2023.7 V1330 H2323.2" stroke="#45dc00" stroke-width="5.6" fill="none" stroke-linejoin="miter"/>
<path d="M1716.2,1226.7 V1242.5 H1741 V1250.3 H1746.6 V1272.9 H1779.1 V1280.7 H1786.2 V1288.4 H1788.3 V1303.3 H1795.4 V1311 H1797.5 V1319.5 H1811.6 V1326.6 H1855.4 V1342.1 H1886.5 V1349.9 H1906.3 V1358.4 H1923.3 V1368.3 H1958.6 V1387.3 H1965.6 V1397.6 H2002.7 V1406.7 H2026.7 L2031.3,1423.2 H2093 V1456.3 H2156.1" stroke="#cc121f" stroke-width="5.6" fill="none" stroke-linejoin="miter"/>
<path d="M1881.3,1271.6V1292.6M1870.8,1282.1H1891.8" stroke="#45dc00" stroke-width="2.2" fill="none"/>
<path d="M1896.4,1280.0V1301.0M1885.9,1290.5H1906.9" stroke="#45dc00" stroke-width="2.2" fill="none"/>
<path d="M1924.7,1297.0V1318.0M1914.2,1307.5H1935.2M1931.7,1297.0V1318.0M1921.2,1307.5H1942.2" stroke="#45dc00" stroke-width="2.2" fill="none"/>
<path d="M1966.6,1307.6V1328.6M1956.1,1318.1H1977.1M1990.6,1307.6V1328.6M1980.1,1318.1H2001.1M1998.1,1307.6V1328.6M1987.6,1318.1H2008.6M2003.6,1307.6V1328.6M1993.1,1318.1H2014.1" stroke="#45dc00" stroke-width="2.2" fill="none"/>
<path d="M2039.7,1319.5V1340.5M2029.2,1330.0H2050.2M2048.7,1319.5V1340.5M2038.2,1330.0H2059.2M2051.7,1319.5V1340.5M2041.2,1330.0H2062.2M2054.4,1319.5V1340.5M2043.9,1330.0H2064.9M2061.3,1319.5V1340.5M2050.8,1330.0H2071.8M2074.9,1319.5V1340.5M2064.4,1330.0H2085.4M2089.9,1319.5V1340.5M2079.4,1330.0H2100.4M2093.8,1319.5V1340.5M2083.3,1330.0H2104.3M2112.5,1319.5V1340.5M2102.0,1330.0H2123.0M2159.2,1319.5V1340.5M2148.7,1330.0H2169.7M2185.3,1319.5V1340.5M2174.8,1330.0H2195.8M2205.8,1319.5V1340.5M2195.3,1330.0H2216.3M2207.9,1319.5V1340.5M2197.4,1330.0H2218.4M2220.8,1319.5V1340.5M2210.3,1330.0H2231.3M2232.0,1319.5V1340.5M2221.5,1330.0H2242.5M2267.5,1319.5V1340.5M2257.0,1330.0H2278.0M2269.6,1319.5V1340.5M2259.1,1330.0H2280.1M2296.7,1319.5V1340.5M2286.2,1330.0H2307.2M2314.1,1319.5V1340.5M2303.6,1330.0H2324.6" stroke="#45dc00" stroke-width="2.2" fill="none"/>
<path d="M1881.3,1331.6V1352.6M1870.8,1342.1H1891.8" stroke="#cc121f" stroke-width="2.2" fill="none"/>
<path d="M1896.7,1339.4V1360.4M1886.2,1349.9H1907.2" stroke="#cc121f" stroke-width="2.2" fill="none"/>
<path d="M1908.8,1347.9V1368.9M1898.3,1358.4H1919.3M1912.0,1347.9V1368.9M1901.5,1358.4H1922.5M1921.8,1347.9V1368.9M1911.3,1358.4H1932.3" stroke="#cc121f" stroke-width="2.2" fill="none"/>
<path d="M1978.4,1387.1V1408.1M1967.9,1397.6H1988.9M1999.6,1387.1V1408.1M1989.1,1397.6H2010.1" stroke="#cc121f" stroke-width="2.2" fill="none"/>
<path d="M2013.2,1396.2V1417.2M2002.7,1406.7H2023.7M2026.7,1396.2V1417.2M2016.2,1406.7H2037.2" stroke="#cc121f" stroke-width="2.2" fill="none"/>
<path d="M2028.8,1412.7V1433.7M2018.3,1423.2H2039.3M2032.8,1412.7V1433.7M2022.3,1423.2H2043.3M2039.7,1412.7V1433.7M2029.2,1423.2H2050.2M2051.7,1412.7V1433.7M2041.2,1423.2H2062.2M2076.4,1412.7V1433.7M2065.9,1423.2H2086.9" stroke="#cc121f" stroke-width="2.2" fill="none"/>
<path d="M2111.0,1445.8V1466.8M2100.5,1456.3H2121.5M2139.6,1445.8V1466.8M2129.1,1456.3H2150.1M2147.1,1445.8V1466.8M2136.6,1456.3H2157.6" stroke="#cc121f" stroke-width="2.2" fill="none"/>
</svg></body></html>
